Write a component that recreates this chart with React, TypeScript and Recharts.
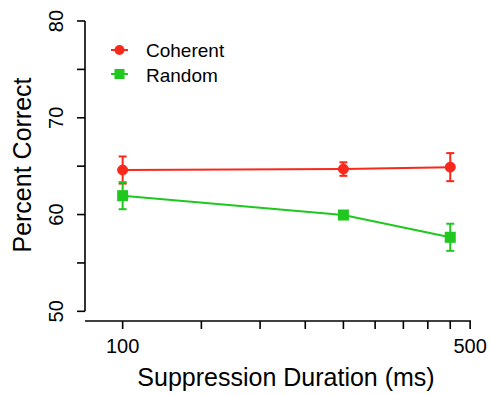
import {
  ComposedChart,
  Line,
  XAxis,
  YAxis,
  ErrorBar,
  ReferenceLine,
} from "recharts";

const durations = [100, 278, 456];
const coherent = [64.6, 64.7, 64.9];
const coherentErr = [1.4, 0.7, 1.45];
const random = [61.95, 59.95, 57.65];
const randomErr = [1.4, 0.3, 1.4];

const xTicks = [100, 144, 189, 233, 278, 322, 367, 411, 456, 500];
const xLabels = [100, 500];
const yTicks = [50, 55, 60, 65, 70, 75, 80];
const yLabels = [50, 60, 70, 80];

const RED = "#f8281c";
const GREEN = "#1ec81e";
const FONT = "'Liberation Sans', Arial, Helvetica, sans-serif";

const data = durations.map((d, i) => ({
  duration: d,
  coherent: coherent[i],
  coherentErr: coherentErr[i],
  random: random[i],
  randomErr: randomErr[i],
}));

function XTick({ x, y, payload }: any) {
  if (!xLabels.includes(payload.value)) return null;
  return (
    <text x={x} y={y + 22} textAnchor="middle" fontSize={20} fill="#000" fontFamily={FONT}>
      {payload.value}
    </text>
  );
}

function YTick({ payload, y }: any) {
  if (!yLabels.includes(payload.value)) return null;
  const tx = 63;
  return (
    <text
      x={tx}
      y={y}
      transform={`rotate(-90, ${tx}, ${y})`}
      textAnchor="middle"
      fontSize={20}
      fill="#000"
      fontFamily={FONT}
    >
      {payload.value}
    </text>
  );
}

function SquareDot({ cx, cy }: any) {
  if (cx == null || cy == null) return null;
  return <rect x={cx - 5.5} y={cy - 5.5} width={11} height={11} fill={GREEN} />;
}

function LegendBox() {
  return (
    <svg
      width={160}
      height={60}
      style={{ position: "absolute", left: 100, top: 34 }}
    >
      <line x1={11} y1={16} x2={28} y2={16} stroke={RED} strokeWidth={2} />
      <circle cx={19.5} cy={16} r={5} fill={RED} />
      <text x={46} y={23} fontSize={19} fontFamily={FONT} fill="#000">Coherent</text>
      <line x1={11} y1={40} x2={28} y2={40} stroke={GREEN} strokeWidth={2} />
      <rect x={14.5} y={35} width={10} height={10} fill={GREEN} />
      <text x={46} y={48} fontSize={19} fontFamily={FONT} fill="#000">Random</text>
    </svg>
  );
}

export default function App() {
  return (
    <div style={{ position: "absolute", left: 0, top: 0, width: 490, height: 395, background: "#fff" }}>
      <ComposedChart
        width={490}
        height={395}
        data={data}
        margin={{ top: 21, right: 19, bottom: 0, left: 0 }}
      >
        <XAxis
          dataKey="duration"
          type="number"
          scale="log"
          domain={[84, 502]}
          allowDataOverflow
          ticks={xTicks}
          interval={0}
          tick={<XTick />}
          tickSize={8}
          height={74}
          axisLine={{ stroke: "#000", strokeWidth: 1.6 }}
          tickLine={{ stroke: "#000", strokeWidth: 1.6 }}
          label={{
            content: () => (
              <text x={286} y={386} textAnchor="middle" fontSize={25} fill="#000" fontFamily={FONT}>
                Suppression Duration (ms)
              </text>
            ),
          }}
        />
        <YAxis
          type="number"
          domain={[49, 80]}
          allowDataOverflow
          ticks={yTicks}
          interval={0}
          tick={<YTick />}
          tickSize={8}
          width={85}
          axisLine={false}
          tickLine={{ stroke: "#000", strokeWidth: 1.6 }}
          label={{
            content: () => (
              <text
                x={31}
                y={165}
                transform="rotate(-90, 31, 165)"
                textAnchor="middle"
                fontSize={25}
                fill="#000"
                fontFamily={FONT}
              >
                Percent Correct
              </text>
            ),
          }}
        />
        <ReferenceLine
          segment={[
            { x: 84, y: 50 },
            { x: 84, y: 80 },
          ]}
          stroke="#000"
          strokeWidth={1.6}
          ifOverflow="visible"
        />
        <Line
          dataKey="coherent"
          name="Coherent"
          stroke={RED}
          strokeWidth={2}
          dot={{ r: 5, fill: RED, stroke: RED, strokeWidth: 1 }}
          isAnimationActive={false}
        >
          <ErrorBar dataKey="coherentErr" direction="y" width={4} stroke={RED} strokeWidth={2} />
        </Line>
        <Line
          dataKey="random"
          name="Random"
          stroke={GREEN}
          strokeWidth={2}
          dot={<SquareDot />}
          isAnimationActive={false}
        >
          <ErrorBar dataKey="randomErr" direction="y" width={4} stroke={GREEN} strokeWidth={2} />
        </Line>
      </ComposedChart>
      <LegendBox />
    </div>
  );
}
